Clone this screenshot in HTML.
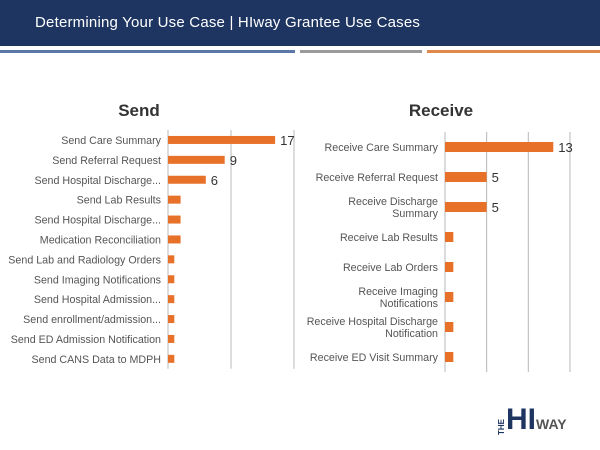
<!DOCTYPE html>
<html><head><meta charset="utf-8"><style>
body{margin:0;width:600px;height:450px;overflow:hidden;background:#fff;font-family:"Liberation Sans",sans-serif}
#hdr{position:absolute;left:0;top:0;width:600px;height:46px;background:#1e3562}
#hdr span{position:absolute;left:35px;top:14px;color:#fff;font-size:15px;letter-spacing:0.2px}
.st{position:absolute;top:50px;height:3px}
</style></head><body>
<div id="hdr"><span>Determining Your Use Case | HIway Grantee Use Cases</span></div>
<div class="st" style="left:0;width:295px;background:#5b79a8"></div>
<div class="st" style="left:300px;width:122px;background:#9a9a9a"></div>
<div class="st" style="left:427px;width:173px;background:#e0894a"></div>
<svg id="c" width="600" height="450" style="position:absolute;left:0;top:0"></svg>
<div style="position:absolute;left:497px;top:405px;font-weight:bold;color:#1e3562"><span style="font-size:8px;writing-mode:vertical-rl;transform:rotate(180deg);display:inline-block;vertical-align:bottom">THE</span><span style="font-size:30px;line-height:30px">HI</span><span style="font-size:14px;color:#555">WAY</span></div>
<script>
const sendCats=["Send Care Summary","Send Referral Request","Send Hospital Discharge...","Send Lab Results","Send Hospital Discharge...","Medication Reconciliation","Send Lab and Radiology Orders","Send Imaging Notifications","Send Hospital Admission...","Send enrollment/admission...","Send ED Admission Notification","Send CANS Data to MDPH"];
const sendVals=[17,9,6,2,2,2,1,1,1,1,1,1];
const sendLabels=["17","9","6","","","","","","","","",""];
const recvCats=[["Receive Care Summary"],["Receive Referral Request"],["Receive Discharge","Summary"],["Receive Lab Results"],["Receive Lab Orders"],["Receive Imaging","Notifications"],["Receive Hospital Discharge","Notification"],["Receive ED Visit Summary"]];
const recvVals=[13,5,5,1,1,1,1,1];
const recvLabels=["13","5","5","","","","",""];
const svg=document.getElementById('c');const NS="http://www.w3.org/2000/svg";
function mk(t,a,p){const e=document.createElementNS(NS,t);for(const k in a)e.setAttribute(k,a[k]);(p||svg).appendChild(e);return e;}
function chart(o){
  const g=mk('g',{});
  
  
  const x=v=>o.x0+v*o.unit;
  const n=o.vals.length;const y=i=>o.top+(i+0.5)*o.step;
  const tt=mk('text',{x:o.tx,y:o.ty,'font-size':17,'font-weight':'bold',fill:'#333','text-anchor':'middle'},g);tt.textContent=o.title;
  
  
  o.grid.forEach(v=>{const l=mk('line',{x1:x(v),x2:x(v),y1:o.top,y2:o.top+n*o.step,stroke:'#b8b8b8','stroke-width':1},g);
    
    });
  const ax=mk('line',{x1:o.x0,x2:o.x0,y1:o.top,y2:o.top+n*o.step,stroke:'#b8b8b8'},g);
  
  
  o.vals.forEach((v,i)=>{
    const r=mk('rect',{x:o.x0,y:y(i)-o.bh/2,width:v*o.unit,height:o.bh,fill:'#e8712a'},g);
    
    
    const lines=Array.isArray(o.cats[i])?o.cats[i]:[o.cats[i]];
    lines.forEach((s,j)=>{const t=mk('text',{x:o.x0-7,y:y(i)+4+(j-(lines.length-1)/2)*12,'font-size':10.7,fill:'#555','text-anchor':'end'},g);t.textContent=s;
      
      });
    if(o.labels[i]){const t=mk('text',{x:x(v)+5,y:y(i)+5,'font-size':13,fill:'#333'},g);t.textContent=o.labels[i];
      
      }
  });
}
chart({name:'send-chart',title:'Send',tx:139,ty:116,x0:168,unit:6.3,top:130,step:19.9,bh:8,vals:sendVals,cats:sendCats,labels:sendLabels,grid:[10,20]});
chart({name:'receive-chart',title:'Receive',tx:441,ty:116,x0:445,unit:8.33,top:132,step:30,bh:10,vals:recvVals,cats:recvCats,labels:recvLabels,grid:[5,10,15]});
</script>
</body></html>
